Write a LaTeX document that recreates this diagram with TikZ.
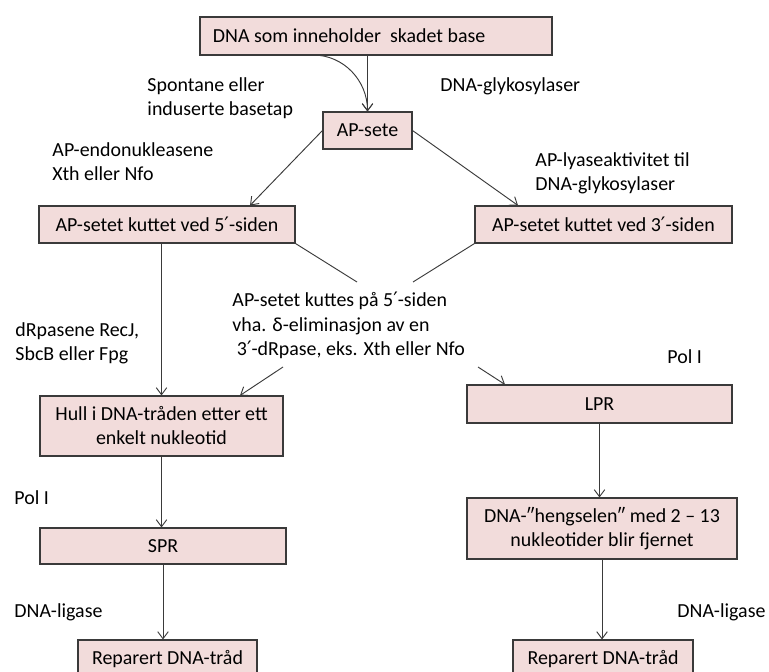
\documentclass[tikz,border=0pt]{standalone}
\usepackage{fontspec}
\setmainfont{Carlito}
\newfontfamily\primefont{DejaVu Sans}
\newcommand{\prm}{{\primefont ′}}
\usepackage{tikz}
\usetikzlibrary{calc}
\usetikzlibrary{arrows.meta}
\definecolor{boxpink}{HTML}{F2DCDB}
\definecolor{edgegray}{HTML}{3A3A3A}
\tikzset{
  stepbox/.style={draw=edgegray, fill=boxpink, line width=0.9pt, inner sep=0pt},
  note/.style={inner sep=0pt, align=left, anchor=north west},
}

\begin{document}
\begin{tikzpicture}[x=0.03cm, y=-0.03cm, >={Straight Barb[length=6pt,width=9pt]}, font=\fontsize{17}{20.5}\selectfont, line width=0.8pt, draw=edgegray]

\useasboundingbox (0,0) rectangle (769,671);

\node[stepbox, minimum width=10.56cm, minimum height=1.14cm, text width=9.78cm, align=flush left] (damaged) at (376,36) {DNA som inneholder\ \ skadet base};
\node[stepbox, minimum width=2.67cm, minimum height=1.11cm] (apsete) at (367.5,130.5) {AP-sete};
\node[stepbox, minimum width=7.68cm, minimum height=1.11cm] (cut5) at (167,224.5) {AP-setet kuttet ved 5\prm-siden};
\node[stepbox, minimum width=7.71cm, minimum height=1.11cm] (cut3) at (603.5,224.5) {AP-setet kuttet ved 3\prm-siden};
\node[stepbox, minimum width=7.29cm, minimum height=1.8cm, align=center] (gap) at (161.5,426) {Hull i DNA-tråden etter ett\\enkelt nukleotid};
\node[stepbox, minimum width=7.95cm, minimum height=1.14cm] (lpr) at (599.5,404) {LPR};
\node[stepbox, minimum width=7.38cm, minimum height=1.08cm] (spr) at (163,546) {SPR};
\node[stepbox, minimum width=8.1cm, minimum height=1.83cm, align=center] (hinge) at (602,528.5) {DNA-″hengselen″ med 2 – 13\\nukleotider blir fjernet};
\node[stepbox, minimum width=5.37cm, minimum height=1.14cm] (repL) at (167.5,659) {Reparert DNA-tråd};
\node[stepbox, minimum width=5.4cm, minimum height=1.14cm] (repR) at (603,659) {Reparert DNA-tråd};

\node[note] (spont) at (147,77) {Spontane eller\\induserte basetap};
\node[note] (glyk) at (440,77) {DNA-glykosylaser};
\node[note] (endo) at (52,142) {AP-endonukleasene\\Xth eller Nfo};
\node[note] (lyase) at (535,152) {AP-lyaseaktivitet til\\DNA-glykosylaser};
\node[note] (drp) at (15,322) {dRpasene RecJ,\\SbcB eller Fpg};
\node[note] (elim) at (232,292) {AP-setet kuttes på 5\prm-siden\\vha. δ-eliminasjon av en\\\ 3\prm-dRpase, eks. Xth eller Nfo};
\node[note] (polR) at (667,349) {Pol I};
\node[note] (polL) at (14,490) {Pol I};
\node[note] (ligL) at (14,603) {DNA-ligase};
\node[note] (ligR) at (677,603) {DNA-ligase};

\coordinate (bend) at (313,55);
\coordinate (in5) at (357,282);
\coordinate (in3) at (413,282);
\coordinate (outL) at (283,367);
\coordinate (outR) at (478,367);

\draw[->] (damaged.south -| apsete.north) -- (apsete.north);
\draw[->] (bend) to[out=0, in=90] (apsete.north);
\draw[->] (apsete.west) -- (cut5.north -| 250,0);
\draw[->] (apsete.east) -- (cut3.north -| 518,0);
\draw[->] (cut5.south -| gap.north) -- (gap.north);
\draw (cut5.south east) -- (in5);
\draw (cut3.south west) -- (in3);
\draw[->] (outL) -- (gap.north -| 240,0);
\draw[->] (outR) -- (lpr.north -| 505,0);
\draw[->] (gap.south) -- (gap.south |- spr.north);
\draw[->] (spr.south) -- (spr.south |- repL.north);
\draw[->] (lpr.south) -- (lpr.south |- hinge.north);
\draw[->] (hinge.south) -- (hinge.south |- repR.north);

\end{tikzpicture}
\end{document}
